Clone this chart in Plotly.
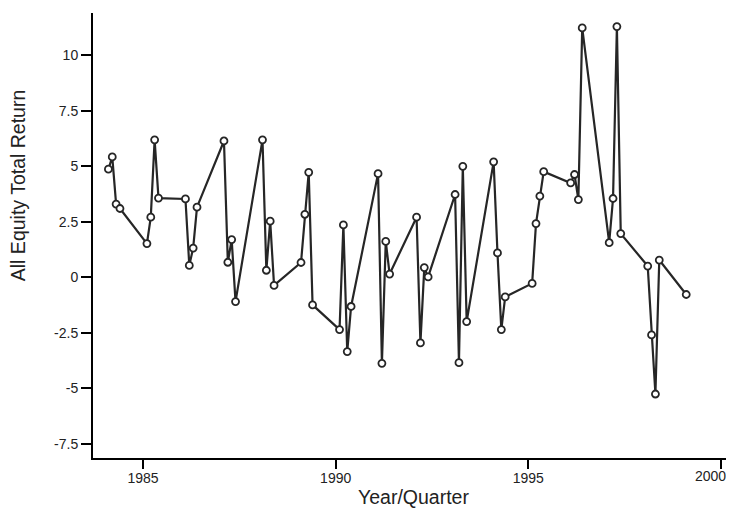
import plotly.graph_objects as go

# Quarter positions (year + quarter/10) and returns
period = [
    1984.1, 1984.2, 1984.3, 1984.4,
    1985.1, 1985.2, 1985.3, 1985.4,
    1986.1, 1986.2, 1986.3, 1986.4,
    1987.1, 1987.2, 1987.3, 1987.4,
    1988.1, 1988.2, 1988.3, 1988.4,
    1989.1, 1989.2, 1989.3, 1989.4,
    1990.1, 1990.2, 1990.3, 1990.4,
    1991.1, 1991.2, 1991.3, 1991.4,
    1992.1, 1992.2, 1992.3, 1992.4,
    1993.1, 1993.2, 1993.3, 1993.4,
    1994.1, 1994.2, 1994.3, 1994.4,
    1995.1, 1995.2, 1995.3, 1995.4,
    1996.1, 1996.2, 1996.3, 1996.4,
    1997.1, 1997.2, 1997.3, 1997.4,
    1998.1, 1998.2, 1998.3, 1998.4,
    1999.1,
]
total_return = [
    4.87, 5.42, 3.30, 3.10,
    1.52, 2.71, 6.19, 3.57,
    3.53, 0.54, 1.32, 3.16,
    6.14, 0.68, 1.70, -1.09,
    6.19, 0.32, 2.53, -0.36,
    0.67, 2.84, 4.73, -1.24,
    -2.35, 2.36, -3.34, -1.31,
    4.67, -3.87, 1.62, 0.15,
    2.71, -2.95, 0.44, 0.02,
    3.73, -3.84, 5.00, -1.99,
    5.20, 1.10, -2.35, -0.88,
    -0.27, 2.42, 3.66, 4.76,
    4.25, 4.63, 3.50, 11.23,
    1.56, 3.55, 11.29, 1.97,
    0.51, -2.59, -5.25, 0.78,
    -0.77,
]

x_tickvals = [1985, 1990, 1995, 2000]
x_ticktext = ["1985", "1990", "1995", "2000"]
y_tickvals = [-7.5, -5, -2.5, 0, 2.5, 5, 7.5, 10]
y_ticktext = ["-7.5", "-5", "-2.5", "0", "2.5", "5", "7.5", "10"]

x_title = "Year/Quarter"
y_title = "All Equity Total Return"

line_col = "#262626"
text_col = "#222222"
font_fam = "Liberation Sans, Arial, Helvetica, sans-serif"

fig = go.Figure()
fig.add_trace(go.Scatter(
    x=period, y=total_return, mode="lines+markers",
    line=dict(color=line_col, width=2.2),
    marker=dict(symbol="circle", size=7, color="white",
                line=dict(color=line_col, width=1.8)),
    showlegend=False, hoverinfo="x+y",
))

# last x tick label sits at the page edge: draw it shifted left as an annotation
axis_ticktext = x_ticktext[:-1] + [""]

# page body has an 8px margin, so the figure is sized 8px smaller
fig.update_layout(
    width=726, height=502,
    margin=dict(l=85, r=0, t=5, b=52),
    paper_bgcolor="white", plot_bgcolor="white",
    font=dict(family=font_fam, color=text_col),
    xaxis=dict(
        range=[1983.70, 2000.34], tickmode="array",
        tickvals=x_tickvals, ticktext=axis_ticktext,
        showgrid=False, zeroline=False,
        showline=True, linecolor="black", linewidth=2,
        ticks="outside", ticklen=9, tickwidth=2, tickcolor="black",
        ticklabelstandoff=-3,
        tickfont=dict(size=14, family=font_fam, color=text_col),
    ),
    yaxis=dict(
        range=[-8.13, 11.90], tickmode="array",
        tickvals=y_tickvals, ticktext=y_ticktext,
        showgrid=False, zeroline=False,
        showline=True, linecolor="black", linewidth=2,
        ticks="outside", ticklen=10, tickwidth=2, tickcolor="black",
        tickfont=dict(size=14, family=font_fam, color=text_col),
    ),
    annotations=[
        dict(text=x_ticktext[-1], xref="x", yref="paper", x=x_tickvals[-1], y=-0.040,
             xanchor="center", yanchor="middle", xshift=-10, showarrow=False,
             font=dict(size=14, family=font_fam, color=text_col)),
        dict(text=x_title, xref="paper", yref="paper", x=0.5, y=-0.088,
             xanchor="center", yanchor="middle", showarrow=False,
             font=dict(size=19.5, family=font_fam, color=text_col)),
        dict(text=y_title, xref="paper", yref="paper", x=-0.117, y=0.613,
             xanchor="center", yanchor="middle", textangle=-90, showarrow=False,
             font=dict(size=19.5, family=font_fam, color=text_col)),
    ],
)

fig.write_html("out.html")
